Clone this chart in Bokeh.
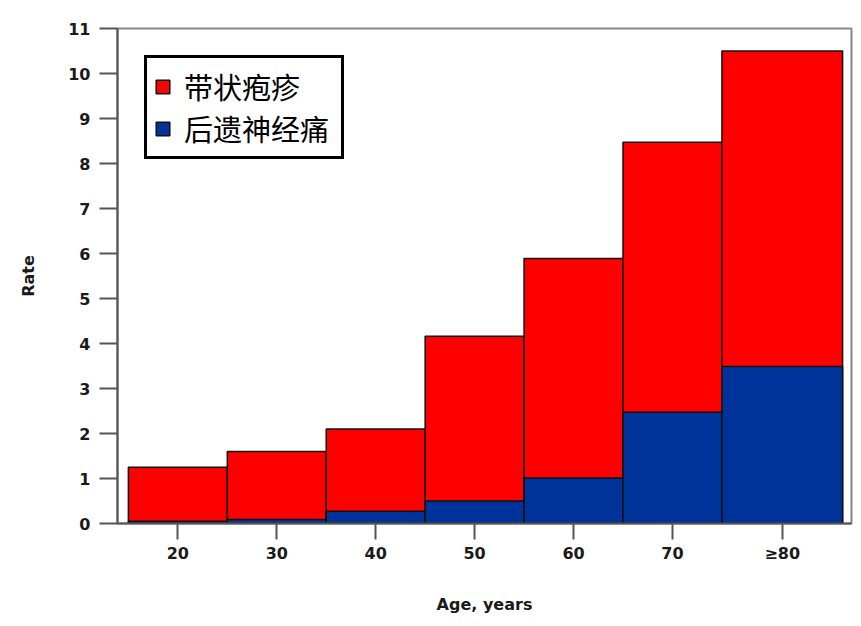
from bokeh.plotting import figure
from bokeh.models import FixedTicker, Range1d
from bokeh.embed import file_html
from bokeh.resources import INLINE

# Data
age_labels = ["20", "30", "40", "50", "60", "70", "≥80"]
bin_left = [15, 25, 35, 45, 55, 65, 75]
bin_right = [25, 35, 45, 55, 65, 75, 87.2]
herpes_zoster = [1.25, 1.60, 2.10, 4.16, 5.89, 8.47, 10.50]
phn = [0.05, 0.09, 0.27, 0.50, 1.01, 2.47, 3.49]

centers = [(l + r) / 2 for l, r in zip(bin_left, bin_right)]

p = figure(width=853, height=618, output_backend="svg", toolbar_location=None,
           x_range=Range1d(13.9, 88.1), y_range=Range1d(0, 11),
           min_border_left=117, min_border_top=28, min_border_right=2, min_border_bottom=95)

p.quad(left=bin_left, right=bin_right, bottom=0, top=herpes_zoster,
       fill_color="#FF0000", line_color="#111111", line_width=1.5,
       legend_label="带状疱疹")
p.quad(left=bin_left, right=bin_right, bottom=0, top=phn,
       fill_color="#003399", line_color="#111111", line_width=1.5,
       legend_label="后遗神经痛")

p.xgrid.visible = False
p.ygrid.visible = False
p.outline_line_color = "#888888"
p.outline_line_width = 2

p.xaxis.ticker = FixedTicker(ticks=centers)
p.xaxis.major_label_overrides = {c: lab for c, lab in zip(centers, age_labels)}
p.yaxis.ticker = FixedTicker(ticks=list(range(0, 12)))

for ax in (p.xaxis, p.yaxis):
    ax.axis_line_color = "#555555"
    ax.axis_line_width = 2
    ax.major_tick_line_color = "#555555"
    ax.major_tick_line_width = 2
    ax.minor_tick_line_color = None
    ax.major_tick_in = 0
    ax.major_label_text_font = "DejaVu Sans"
    ax.major_label_text_font_style = "bold"
    ax.major_label_text_font_size = "16px"
    ax.major_label_text_color = "#1a1a1a"
    ax.axis_label_text_font = "DejaVu Sans"
    ax.axis_label_text_font_style = "bold"
    ax.axis_label_text_font_size = "16px"
    ax.axis_label_text_color = "#1a1a1a"

p.yaxis.major_tick_out = 18
p.xaxis.major_tick_out = 16
p.yaxis.major_label_standoff = 9
p.xaxis.major_label_standoff = 4
p.yaxis.axis_label = "Rate"
p.xaxis.axis_label = "Age, years"
p.yaxis.axis_label_standoff = 27
p.xaxis.axis_label_standoff = 29

lg = p.legend[0]
lg.location = "top_left"
lg.margin = 27
lg.border_line_color = "black"
lg.border_line_width = 3
lg.border_line_alpha = 1
lg.background_fill_color = "white"
lg.background_fill_alpha = 1
lg.label_text_font = "Noto Sans CJK SC"
lg.label_text_font_size = "29px"
lg.label_text_color = "black"
lg.label_width = 150
lg.glyph_width = 17
lg.glyph_height = 17
lg.label_standoff = 13
lg.padding = 7
lg.spacing = 0

open("out.html", "w").write(file_html(p, INLINE))
